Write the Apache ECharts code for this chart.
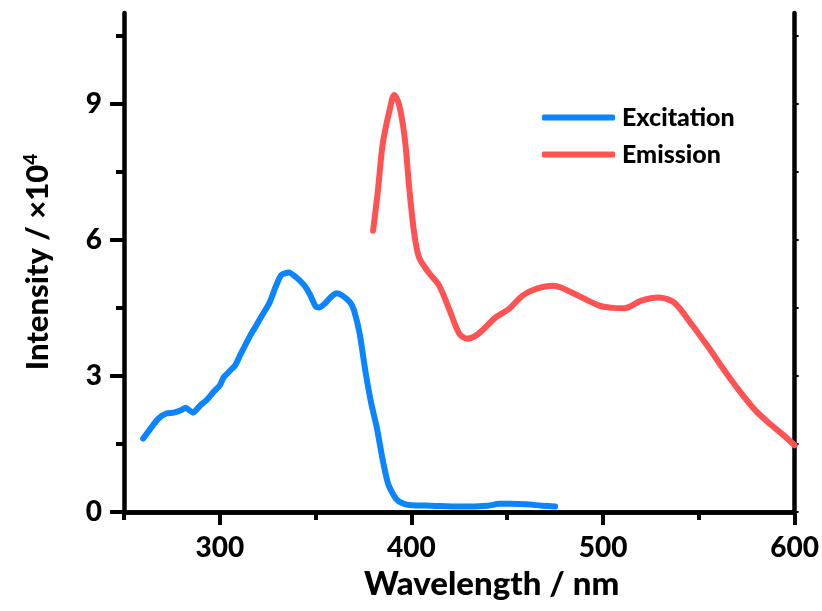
<!DOCTYPE html>
<html>
<head>
<meta charset="utf-8">
<script src="https://cdn.jsdelivr.net/npm/echarts@6/dist/echarts.min.js"></script>
<style>
  html, body { margin: 0; padding: 0; background: #fff; }
  #chart { width: 822px; height: 611px; }
</style>
</head>
<body>
<div id="chart"></div>
<script>
// Excitation spectrum (wavelength in nm, intensity in units of 10^4)
const excitationWavelength = [260, 264, 268, 272, 276, 280, 282, 286, 290, 293, 297, 300, 302, 305, 308, 311, 316, 319, 322, 326, 329, 332, 336, 340, 344, 347, 350, 352, 355, 358, 361, 364, 368, 370, 373, 376, 379, 382, 385, 388, 392, 396, 400, 410, 425, 440, 446, 452, 460, 468, 475];
const excitationIntensity = [1.62, 1.85, 2.06, 2.17, 2.19, 2.25, 2.30, 2.19, 2.36, 2.46, 2.66, 2.79, 2.97, 3.10, 3.23, 3.49, 3.90, 4.11, 4.33, 4.62, 4.95, 5.22, 5.28, 5.17, 5.00, 4.80, 4.53, 4.51, 4.60, 4.74, 4.82, 4.77, 4.62, 4.45, 3.93, 3.10, 2.40, 1.85, 1.15, 0.60, 0.29, 0.18, 0.15, 0.14, 0.12, 0.14, 0.18, 0.18, 0.17, 0.14, 0.12];

// Emission spectrum
const emissionWavelength = [380, 382.5, 385, 388.5, 391, 393.5, 396.5, 399, 401.5, 404, 409, 414.5, 420, 425, 429, 435, 444, 451, 458, 465, 474, 478, 487, 498, 505, 511, 520, 529, 537, 546, 555, 564, 571, 579.5, 588, 594, 600];
const emissionIntensity = [6.20, 7.08, 8.11, 8.84, 9.19, 8.99, 8.25, 7.08, 6.13, 5.61, 5.28, 4.99, 4.44, 3.93, 3.82, 3.93, 4.29, 4.48, 4.77, 4.92, 4.99, 4.95, 4.77, 4.55, 4.50, 4.49, 4.66, 4.73, 4.62, 4.15, 3.63, 3.08, 2.68, 2.24, 1.91, 1.70, 1.47];

const seriesNames = ['Excitation', 'Emission'];

// Axis ticks
const xMajorTicks = [300, 400, 500, 600];
const xMinorTicks = [250, 350, 450, 550];
const yMajorTicks = [0, 3, 6, 9];
const yMinorTicks = [1.5, 4.5, 7.5, 10.5];
const yRightTicks = [0, 1.5, 3, 4.5, 6, 7.5, 9, 10.5];

const xTitle = 'Wavelength / nm';
const yTitle = 'Intensity / ×10';
const yTitleExponent = '4';

const FONT = 'Lato';
const WEIGHT = 900;
const BLUE = '#0a84ff';
const RED = '#ff5252';
const X_MIN = 250, X_MAX = 600, Y_MIN = 0, Y_MAX = 11;

const pairs = (xs, ys) => xs.map((x, i) => [x, ys[i]]);

const lineAxis = { lineStyle: { color: '#000', width: 4.5 } };
const noLabel = { show: false };
const noSplit = { show: false };

const chart = echarts.init(document.getElementById('chart'), null, { renderer: 'canvas' });

chart.setOption({
  backgroundColor: '#fff',
  animation: false,
  grid: { left: 124, right: 26, top: 13, bottom: 99, containLabel: false },
  legend: {
    orient: 'vertical',
    left: 537,
    top: 100,
    itemWidth: 73,
    itemHeight: 6,
    itemGap: 12,
    icon: 'roundRect',
    data: seriesNames,
    textStyle: {
      fontFamily: FONT, fontWeight: WEIGHT, fontSize: 25, color: '#000',
      padding: [0, 0, 0, 2]
    }
  },
  xAxis: [
    {
      type: 'value', position: 'bottom', min: X_MIN, max: X_MAX,
      axisLine: lineAxis,
      axisTick: { show: true, customValues: xMajorTicks, length: 13, lineStyle: { width: 4, color: '#000' } },
      axisLabel: { customValues: xMajorTicks, margin: 22, fontFamily: FONT, fontWeight: WEIGHT, fontSize: 28, color: '#000' },
      splitLine: noSplit
    },
    {
      type: 'value', position: 'bottom', min: X_MIN, max: X_MAX,
      axisLine: { show: false },
      axisTick: { show: true, customValues: xMinorTicks, length: 8, lineStyle: { width: 4, color: '#000' } },
      axisLabel: noLabel, splitLine: noSplit
    },
    {
      type: 'value', position: 'top', min: X_MIN, max: X_MAX,
      axisLine: lineAxis, axisTick: { show: false }, axisLabel: noLabel, splitLine: noSplit
    }
  ],
  yAxis: [
    {
      type: 'value', position: 'left', min: Y_MIN, max: Y_MAX,
      axisLine: lineAxis,
      axisTick: { show: true, customValues: yMajorTicks, length: 14, lineStyle: { width: 4, color: '#000' } },
      axisLabel: { customValues: yMajorTicks, margin: 22, fontFamily: FONT, fontWeight: WEIGHT, fontSize: 28, color: '#000' },
      splitLine: noSplit
    },
    {
      type: 'value', position: 'left', min: Y_MIN, max: Y_MAX,
      axisLine: { show: false },
      axisTick: { show: true, customValues: yMinorTicks, length: 8, lineStyle: { width: 4, color: '#000' } },
      axisLabel: noLabel, splitLine: noSplit
    },
    {
      type: 'value', position: 'right', min: Y_MIN, max: Y_MAX,
      axisLine: lineAxis,
      axisTick: { show: true, customValues: yRightTicks, length: 4, lineStyle: { width: 2, color: '#000' } },
      axisLabel: noLabel, splitLine: noSplit
    }
  ],
  series: [
    {
      name: seriesNames[0], type: 'line', xAxisIndex: 0, yAxisIndex: 0,
      data: pairs(excitationWavelength, excitationIntensity),
      showSymbol: false, symbol: 'none', smooth: 0.2,
      color: BLUE,
      lineStyle: { color: BLUE, width: 6, cap: 'round', join: 'round' },
      z: 3
    },
    {
      name: seriesNames[1], type: 'line', xAxisIndex: 0, yAxisIndex: 0,
      data: pairs(emissionWavelength, emissionIntensity),
      showSymbol: false, symbol: 'none', smooth: 0.3,
      color: RED,
      lineStyle: { color: RED, width: 6, cap: 'round', join: 'round' },
      z: 3
    }
  ],
  graphic: [
    {
      type: 'text', left: 364, top: 568,
      style: { text: xTitle, fontFamily: FONT, fontWeight: WEIGHT, fontSize: 33, fill: '#000' }
    },
    {
      type: 'text', x: 38, y: 262, rotation: Math.PI / 2,
      style: {
        text: '{t|' + yTitle + '}{s|' + yTitleExponent + '}',
        align: 'center', verticalAlign: 'middle',
        rich: {
          t: { fontFamily: FONT, fontWeight: WEIGHT, fontSize: 31, fill: '#000' },
          s: { fontFamily: FONT, fontWeight: WEIGHT, fontSize: 19, fill: '#000', verticalAlign: 'top', padding: [0, 0, 14, 0] }
        }
      }
    }
  ]
});
</script>
</body>
</html>
